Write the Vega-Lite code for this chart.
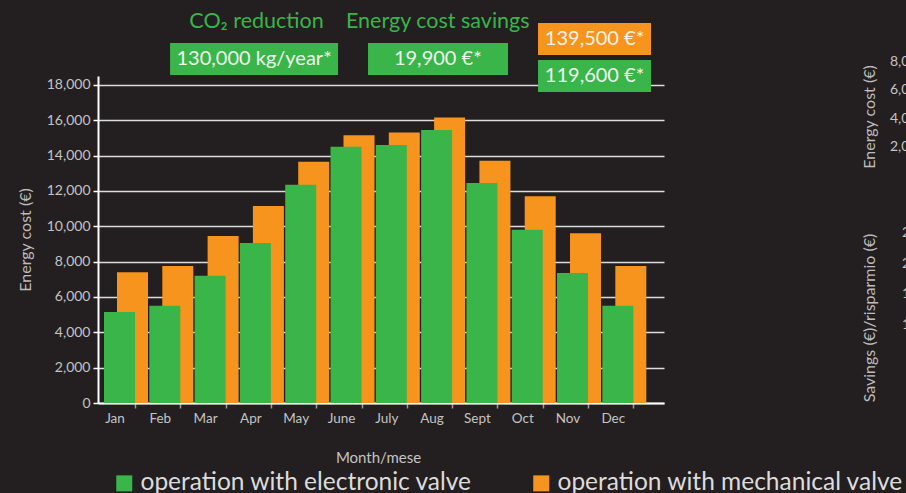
{
"$schema": "https://vega.github.io/schema/vega-lite/v6.json",
"width": 566, "height": 327, "autosize": "none",
"padding": {"left": 98, "top": 76, "right": 242, "bottom": 90},
"background": "#231f20",
"config": {"view": {"stroke": null}, "font": "Lato",
"axisY": {"values": [0,2000,4000,6000,8000,10000,12000,14000,16000,18000], "labelExpr": "format(datum.value, ',')", "domainColor": "#ffffff", "domainWidth": 2, "tickColor": "#ffffff", "tickWidth": 1.5, "tickSize": 5, "labelColor": "#c4c4c4", "labelFontSize": 14, "labelPadding": 3, "gridColor": "#dcdcdc", "gridWidth": 1.5, "titleColor": "#bdbdbd", "titleFontSize": 16, "titleFontWeight": "normal", "titlePadding": 13}
},
"datasets": {"cost": [
{"month": "Jan", "valve": "operation with electronic valve", "cost": 5150},
{"month": "Feb", "valve": "operation with electronic valve", "cost": 5500},
{"month": "Mar", "valve": "operation with electronic valve", "cost": 7200},
{"month": "Apr", "valve": "operation with electronic valve", "cost": 9050},
{"month": "May", "valve": "operation with electronic valve", "cost": 12350},
{"month": "June", "valve": "operation with electronic valve", "cost": 14500},
{"month": "July", "valve": "operation with electronic valve", "cost": 14600},
{"month": "Aug", "valve": "operation with electronic valve", "cost": 15450},
{"month": "Sept", "valve": "operation with electronic valve", "cost": 12450},
{"month": "Oct", "valve": "operation with electronic valve", "cost": 9800},
{"month": "Nov", "valve": "operation with electronic valve", "cost": 7350},
{"month": "Dec", "valve": "operation with electronic valve", "cost": 5500},
{"month": "Jan", "valve": "operation with mechanical valve", "cost": 7400},
{"month": "Feb", "valve": "operation with mechanical valve", "cost": 7750},
{"month": "Mar", "valve": "operation with mechanical valve", "cost": 9450},
{"month": "Apr", "valve": "operation with mechanical valve", "cost": 11150},
{"month": "May", "valve": "operation with mechanical valve", "cost": 13650},
{"month": "June", "valve": "operation with mechanical valve", "cost": 15150},
{"month": "July", "valve": "operation with mechanical valve", "cost": 15300},
{"month": "Aug", "valve": "operation with mechanical valve", "cost": 16150},
{"month": "Sept", "valve": "operation with mechanical valve", "cost": 13700},
{"month": "Oct", "valve": "operation with mechanical valve", "cost": 11700},
{"month": "Nov", "valve": "operation with mechanical valve", "cost": 9600},
{"month": "Dec", "valve": "operation with mechanical valve", "cost": 7750}
]},
"layer": [
{
"data": {"name": "cost"},
"transform": [{"filter": "datum.valve === 'operation with mechanical valve'"}],
"mark": {"type": "bar", "width": 31, "xOffset": 11.85},
"encoding": {
"x": {"field": "month", "type": "nominal",
"scale": {"domain": ["Jan","Feb","Mar","Apr","May","June","July","Aug","Sept","Oct","Nov","Dec"], "paddingInner": 0, "paddingOuter": 0.247, "align": 0, "round": false},
"axis": {"title": "Month/mese", "labelAngle": 0, "domainColor": "#ffffff", "domainWidth": 2, "tickColor": "#9a9a9a", "tickWidth": 1.5, "tickSize": 5, "tickOffset": 14.35, "labelOffset": -20.5, "labelColor": "#c4c4c4", "labelFontSize": 13.5, "labelPadding": 3, "titleColor": "#c4c4c4", "titleFontSize": 15, "titleFontWeight": "normal", "titlePadding": 26, "titleX": 280}},
"y": {"field": "cost", "type": "quantitative", "title": "Energy cost (€)",
"scale": {"domain": [0, 18500], "nice": false},
"axis": {"title": "Energy cost (€)", "labelExpr": "format(datum.value, ',')"}},
"color": {"field": "valve", "type": "nominal",
"scale": {"domain": ["operation with electronic valve", "operation with mechanical valve"], "range": ["#39b54a", "#f7941d"]},
"legend": {"orient": "none", "legendX": 14, "legendY": 395, "direction": "horizontal", "title": null, "symbolType": "square", "symbolSize": 256, "symbolStrokeWidth": 0, "labelFontSize": 24.5, "labelColor": "#dcdcdc", "labelLimit": 600, "columnPadding": 56, "labelOffset": 4}}
}
},
{
"data": {"name": "cost"},
"transform": [{"filter": "datum.valve === 'operation with electronic valve'"}],
"mark": {"type": "bar", "width": 31, "xOffset": -1.15},
"encoding": {
"x": {"field": "month", "type": "nominal",
"axis": {"title": "Month/mese", "labelAngle": 0, "domainColor": "#ffffff", "domainWidth": 2, "tickColor": "#9a9a9a", "tickWidth": 1.5, "tickSize": 5, "tickOffset": 14.35, "labelOffset": -20.5, "labelColor": "#c4c4c4", "labelFontSize": 13.5, "labelPadding": 3, "titleColor": "#c4c4c4", "titleFontSize": 15, "titleFontWeight": "normal", "titlePadding": 26, "titleX": 280}},
"y": {"field": "cost", "type": "quantitative", "title": "Energy cost (€)",
"axis": {"title": "Energy cost (€)", "labelExpr": "format(datum.value, ',')"}},
"color": {"field": "valve", "type": "nominal"}
}
},
{
"data": {"values": [{}]},
"mark": {"type": "bar", "width": 168, "xOffset": -2.5, "color": "#39b54a"},
"encoding": {"x": {"datum": "Apr"}, "y": {"datum": 18557}, "y2": {"datum": 20367}}
},
{
"data": {"values": [{}]},
"mark": {"type": "bar", "width": 140, "xOffset": 0.25, "color": "#39b54a"},
"encoding": {"x": {"datum": "Aug"}, "y": {"datum": 18557}, "y2": {"datum": 20367}}
},
{
"data": {"values": [{}]},
"mark": {"type": "bar", "width": 113, "xOffset": 20.85, "color": "#f7941d"},
"encoding": {"x": {"datum": "Nov"}, "y": {"datum": 19688}, "y2": {"datum": 21498}}
},
{
"data": {"values": [{}]},
"mark": {"type": "bar", "width": 113, "xOffset": 20.85, "color": "#39b54a"},
"encoding": {"x": {"datum": "Nov"}, "y": {"datum": 17595}, "y2": {"datum": 19405}}
},
{
"data": {"values": [{"label": "CO₂ reduction"}]},
"mark": {"type": "text", "color": "#39b54a", "fontSize": 21.5, "baseline": "middle", "align": "center"},
"encoding": {"x": {"datum": "Apr"}, "y": {"datum": 21555}, "text": {"field": "label"}}
},
{
"data": {"values": [{"label": "Energy cost savings"}]},
"mark": {"type": "text", "color": "#39b54a", "fontSize": 21.5, "baseline": "middle", "align": "center"},
"encoding": {"x": {"datum": "Aug"}, "y": {"datum": 21555}, "text": {"field": "label"}}
},
{
"data": {"values": [{"label": "130,000 kg/year*"}]},
"mark": {"type": "text", "color": "#eef6ee", "fontSize": 20, "baseline": "middle", "align": "center", "xOffset": -2.5},
"encoding": {"x": {"datum": "Apr"}, "y": {"datum": 19462}, "text": {"field": "label"}}
},
{
"data": {"values": [{"label": "19,900 €*"}]},
"mark": {"type": "text", "color": "#eef6ee", "fontSize": 20, "baseline": "middle", "align": "center"},
"encoding": {"x": {"datum": "Aug"}, "y": {"datum": 19462}, "text": {"field": "label"}}
},
{
"data": {"values": [{"label": "139,500 €*"}]},
"mark": {"type": "text", "color": "#fdf3e6", "fontSize": 20, "baseline": "middle", "align": "center", "xOffset": 20.85},
"encoding": {"x": {"datum": "Nov"}, "y": {"datum": 20593}, "text": {"field": "label"}}
},
{
"data": {"values": [{"label": "119,600 €*"}]},
"mark": {"type": "text", "color": "#eef6ee", "fontSize": 20, "baseline": "middle", "align": "center", "xOffset": 20.85},
"encoding": {"x": {"datum": "Nov"}, "y": {"datum": 18500}, "text": {"field": "label"}}
},
{
"data": {"values": [{"label": "Energy cost (€)"}]},
"mark": {"type": "text", "color": "#bdbdbd", "fontSize": 16, "baseline": "middle", "align": "center", "angle": 270, "xOffset": 251},
"encoding": {"x": {"datum": "Dec"}, "y": {"datum": 16180}, "text": {"field": "label"}}
},
{
"data": {"values": [{"label": "Savings (€)/risparmio (€)"}]},
"mark": {"type": "text", "color": "#bdbdbd", "fontSize": 16, "baseline": "middle", "align": "center", "angle": 270, "xOffset": 251},
"encoding": {"x": {"datum": "Dec"}, "y": {"datum": 4809}, "text": {"field": "label"}}
},
{
"data": {"values": [{"label": ["8,000", "6,000", "4,000", "2,000"]}]},
"mark": {"type": "text", "color": "#c4c4c4", "fontSize": 14, "baseline": "middle", "align": "left", "lineHeight": 28.3, "xOffset": 271},
"encoding": {"x": {"datum": "Dec"}, "y": {"datum": 19292}, "text": {"field": "label"}}
},
{
"data": {"values": [{"label": ["25,000", "20,000", "15,000", "10,000"]}]},
"mark": {"type": "text", "color": "#c4c4c4", "fontSize": 14, "baseline": "middle", "align": "left", "lineHeight": 30.7, "xOffset": 283},
"encoding": {"x": {"datum": "Dec"}, "y": {"datum": 9618}, "text": {"field": "label"}}
}
]
}
